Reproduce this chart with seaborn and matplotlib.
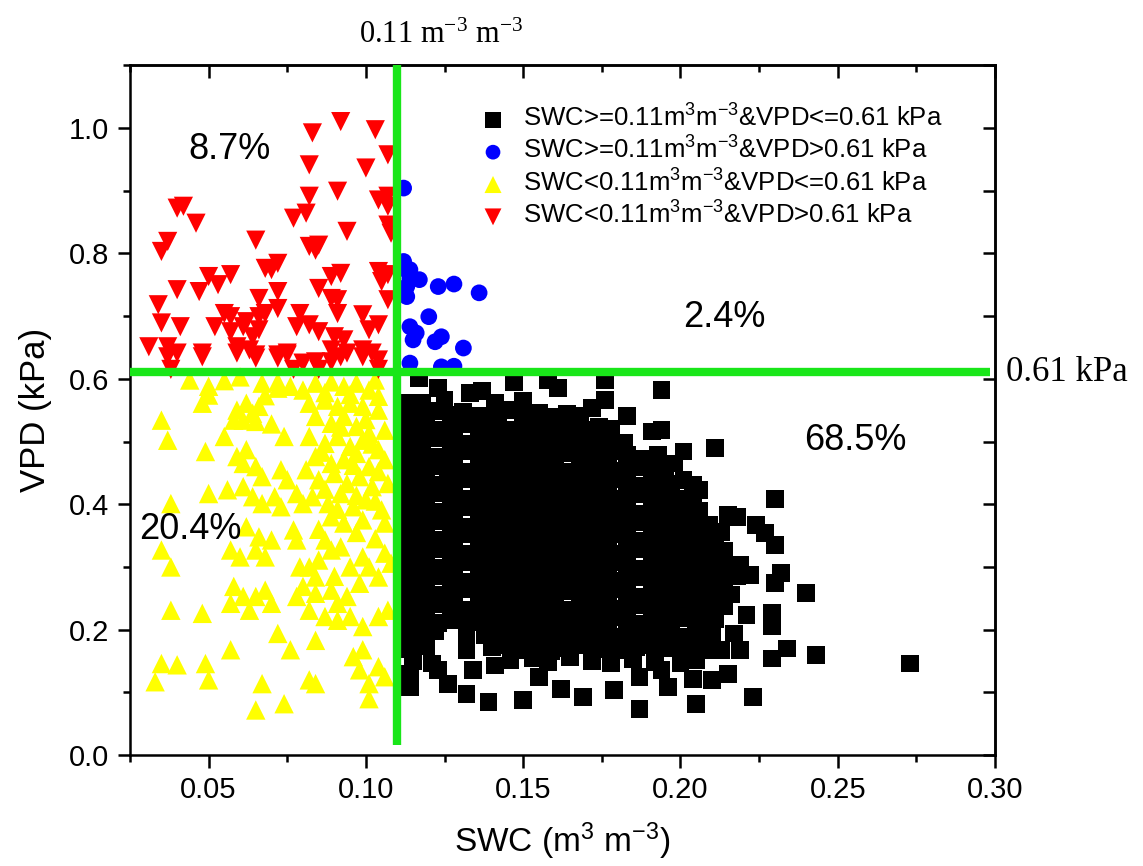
import matplotlib
matplotlib.use("Agg")
import matplotlib.pyplot as plt
import seaborn as sns
import pandas as pd
from matplotlib.ticker import MultipleLocator, FormatStrFormatter

sns.set_theme(style="ticks", rc={"axes.edgecolor": "black", "xtick.color": "black",
                                 "ytick.color": "black", "text.color": "black",
                                 "axes.labelcolor": "black"})
plt.rcParams["font.family"] = ["Liberation Sans", "DejaVu Sans"]
plt.rcParams["mathtext.default"] = "regular"

# ---------------- data (SWC, VPD) ----------------
SWC_T = 0.11
VPD_T = 0.61

labels = [r"SWC>=0.11m$^3$m$^{-3}$&VPD<=0.61 kPa",
          r"SWC>=0.11m$^3$m$^{-3}$&VPD>0.61 kPa",
          r"SWC<0.11m$^3$m$^{-3}$&VPD<=0.61 kPa",
          r"SWC<0.11m$^3$m$^{-3}$&VPD>0.61 kPa"]

pct_text = ["68.5%", "2.4%", "20.4%", "8.7%"]
pct_x = [0.2557, 0.214, 0.0441, 0.0565]
pct_y = [0.502, 0.697, 0.359, 0.965]

red_pts = [
    (0.083, 0.992), (0.092, 1.010), (0.103, 0.997), (0.107, 0.957), (0.082, 0.941), (0.100, 0.936),
    (0.091, 0.899), (0.082, 0.891), (0.104, 0.885), (0.107, 0.891), (0.107, 0.875), (0.040, 0.872),
    (0.042, 0.875), (0.046, 0.848), (0.077, 0.856), (0.081, 0.864), (0.107, 0.845), (0.108, 0.832),
    (0.094, 0.835), (0.065, 0.821), (0.037, 0.819), (0.035, 0.803), (0.082, 0.811), (0.085, 0.813),
    (0.084, 0.805), (0.068, 0.776), (0.072, 0.784), (0.070, 0.774), (0.050, 0.763), (0.053, 0.750),
    (0.057, 0.766), (0.089, 0.763), (0.092, 0.768), (0.104, 0.771), (0.107, 0.766), (0.105, 0.755),
    (0.040, 0.742), (0.047, 0.739), (0.066, 0.728), (0.072, 0.739), (0.085, 0.744), (0.034, 0.718),
    (0.089, 0.728), (0.091, 0.726), (0.091, 0.704), (0.107, 0.726), (0.055, 0.704), (0.057, 0.699),
    (0.062, 0.691), (0.066, 0.699), (0.068, 0.704), (0.072, 0.712), (0.079, 0.704), (0.099, 0.702),
    (0.104, 0.686), (0.101, 0.678), (0.035, 0.689), (0.041, 0.683), (0.052, 0.683), (0.057, 0.675),
    (0.061, 0.683), (0.064, 0.667), (0.066, 0.678), (0.078, 0.683), (0.082, 0.686), (0.085, 0.675),
    (0.090, 0.667), (0.093, 0.662), (0.031, 0.651), (0.037, 0.651), (0.040, 0.641), (0.048, 0.641),
    (0.059, 0.651), (0.063, 0.646), (0.065, 0.638), (0.072, 0.638), (0.075, 0.641), (0.089, 0.646),
    (0.094, 0.641), (0.099, 0.646), (0.102, 0.641), (0.037, 0.635), (0.048, 0.635), (0.059, 0.641),
    (0.065, 0.633), (0.072, 0.633), (0.075, 0.638), (0.080, 0.625), (0.084, 0.627), (0.089, 0.627),
    (0.092, 0.635), (0.099, 0.635), (0.104, 0.630), (0.038, 0.615), (0.077, 0.615), (0.085, 0.615),
    (0.104, 0.615),
]

blue_pts = [
    (0.112, 0.904), (0.112, 0.787), (0.114, 0.774), (0.113, 0.773), (0.114, 0.760), (0.117, 0.758),
    (0.113, 0.747), (0.123, 0.747), (0.128, 0.751), (0.136, 0.737), (0.113, 0.731), (0.120, 0.699),
    (0.114, 0.683), (0.116, 0.673), (0.115, 0.662), (0.122, 0.659), (0.124, 0.667), (0.131, 0.649),
    (0.114, 0.625), (0.124, 0.619), (0.128, 0.620),
]

yellow_pts = [
    (0.044, 0.598), (0.050, 0.588), (0.060, 0.603), (0.067, 0.593), (0.072, 0.595), (0.076, 0.588),
    (0.080, 0.582), (0.084, 0.593), (0.089, 0.595), (0.093, 0.588), (0.097, 0.593), (0.101, 0.582),
    (0.104, 0.572), (0.048, 0.561), (0.050, 0.574), (0.059, 0.550), (0.062, 0.561), (0.064, 0.545),
    (0.066, 0.556), (0.061, 0.534), (0.065, 0.532), (0.058, 0.534), (0.035, 0.534), (0.037, 0.502),
    (0.049, 0.484), (0.074, 0.508), (0.082, 0.561), (0.087, 0.566), (0.091, 0.556), (0.095, 0.561),
    (0.099, 0.556), (0.104, 0.550), (0.084, 0.540), (0.089, 0.529), (0.093, 0.540), (0.097, 0.524),
    (0.101, 0.513), (0.106, 0.518), (0.082, 0.508), (0.087, 0.497), (0.091, 0.508), (0.095, 0.492),
    (0.099, 0.502), (0.104, 0.487), (0.084, 0.476), (0.089, 0.465), (0.093, 0.471), (0.097, 0.481),
    (0.101, 0.460), (0.106, 0.471), (0.081, 0.455), (0.085, 0.439), (0.090, 0.449), (0.094, 0.433),
    (0.098, 0.444), (0.102, 0.428), (0.107, 0.433), (0.083, 0.412), (0.088, 0.401), (0.092, 0.417),
    (0.096, 0.396), (0.100, 0.407), (0.105, 0.391), (0.089, 0.380), (0.093, 0.370), (0.099, 0.375),
    (0.106, 0.370), (0.059, 0.476), (0.062, 0.487), (0.065, 0.460), (0.067, 0.444), (0.061, 0.465),
    (0.073, 0.455), (0.075, 0.439), (0.050, 0.417), (0.056, 0.423), (0.061, 0.428), (0.064, 0.412),
    (0.067, 0.401), (0.071, 0.412), (0.073, 0.396), (0.078, 0.417), (0.080, 0.401), (0.038, 0.401),
    (0.062, 0.364), (0.066, 0.348), (0.070, 0.343), (0.077, 0.359), (0.078, 0.343), (0.057, 0.327),
    (0.060, 0.316), (0.065, 0.327), (0.068, 0.316), (0.087, 0.343), (0.089, 0.327), (0.092, 0.332),
    (0.085, 0.311), (0.035, 0.327), (0.038, 0.300), (0.079, 0.300), (0.082, 0.300), (0.084, 0.284),
    (0.099, 0.316), (0.101, 0.300), (0.106, 0.322), (0.108, 0.306), (0.104, 0.284), (0.058, 0.269),
    (0.061, 0.253), (0.065, 0.253), (0.068, 0.263), (0.070, 0.242), (0.063, 0.231), (0.057, 0.242),
    (0.078, 0.253), (0.080, 0.269), (0.084, 0.258), (0.089, 0.263), (0.091, 0.242), (0.094, 0.253),
    (0.098, 0.274), (0.038, 0.231), (0.048, 0.226), (0.082, 0.231), (0.087, 0.221), (0.091, 0.215),
    (0.095, 0.221), (0.099, 0.205), (0.104, 0.221), (0.107, 0.231), (0.072, 0.194), (0.076, 0.168),
    (0.057, 0.168), (0.084, 0.183), (0.096, 0.157), (0.099, 0.168), (0.104, 0.141), (0.035, 0.146),
    (0.040, 0.144), (0.049, 0.146), (0.033, 0.117), (0.050, 0.120), (0.067, 0.114), (0.082, 0.120),
    (0.084, 0.114), (0.098, 0.136), (0.101, 0.114), (0.106, 0.125), (0.074, 0.082), (0.065, 0.072),
    (0.101, 0.090),
    # extra points in the densest yellow band
    (0.087, 0.578), (0.095, 0.575), (0.103, 0.598), (0.092, 0.523), (0.100, 0.535), (0.086, 0.483),
    (0.102, 0.496), (0.096, 0.462), (0.087, 0.424), (0.104, 0.452), (0.097, 0.414), (0.091, 0.392),
    (0.103, 0.405), (0.085, 0.360), (0.097, 0.355), (0.103, 0.345), (0.095, 0.300), (0.090, 0.285),
    (0.072, 0.585), (0.068, 0.573), (0.055, 0.597), (0.070, 0.528), (0.055, 0.508),
]

black_pts = [
    # scattered upper points
    (0.117, 0.601), (0.123, 0.585), (0.147, 0.595), (0.158, 0.598), (0.161, 0.585), (0.125, 0.566),
    (0.133, 0.577), (0.137, 0.580), (0.118, 0.561), (0.113, 0.561), (0.150, 0.564), (0.141, 0.561),
    (0.168, 0.532), (0.176, 0.598), (0.194, 0.582), (0.176, 0.566), (0.172, 0.553), (0.183, 0.540),
    (0.191, 0.516), (0.194, 0.518), (0.211, 0.489), (0.201, 0.484), (0.193, 0.478), (0.198, 0.465),
    (0.204, 0.431), (0.206, 0.423),
    # dense core, row by row
    (0.113, 0.546), (0.118, 0.541), (0.122, 0.549), (0.127, 0.543), (0.131, 0.547), (0.136, 0.540),
    (0.141, 0.545), (0.145, 0.550), (0.150, 0.542), (0.155, 0.546), (0.160, 0.539), (0.164, 0.544),
    (0.168, 0.540),
    (0.114, 0.521), (0.119, 0.526), (0.123, 0.519), (0.128, 0.524), (0.133, 0.528), (0.137, 0.520),
    (0.142, 0.525), (0.147, 0.518), (0.151, 0.523), (0.156, 0.527), (0.161, 0.521), (0.165, 0.525),
    (0.170, 0.519), (0.174, 0.524), (0.178, 0.520),
    (0.113, 0.503), (0.117, 0.498), (0.122, 0.505), (0.127, 0.500), (0.131, 0.496), (0.136, 0.504),
    (0.140, 0.499), (0.145, 0.502), (0.150, 0.497), (0.154, 0.505), (0.159, 0.500), (0.163, 0.496),
    (0.168, 0.503), (0.173, 0.498), (0.177, 0.502), (0.182, 0.497),
    (0.114, 0.477), (0.118, 0.482), (0.123, 0.475), (0.128, 0.480), (0.132, 0.484), (0.137, 0.476),
    (0.142, 0.481), (0.146, 0.474), (0.151, 0.479), (0.155, 0.483), (0.160, 0.477), (0.165, 0.481),
    (0.169, 0.475), (0.174, 0.480), (0.179, 0.484), (0.183, 0.478), (0.188, 0.473),
    (0.113, 0.459), (0.117, 0.454), (0.122, 0.461), (0.126, 0.456), (0.131, 0.452), (0.136, 0.460),
    (0.140, 0.455), (0.145, 0.458), (0.149, 0.453), (0.154, 0.461), (0.159, 0.456), (0.163, 0.452),
    (0.168, 0.459), (0.172, 0.454), (0.177, 0.458), (0.182, 0.453), (0.186, 0.460), (0.191, 0.455),
    (0.195, 0.458),
    (0.114, 0.433), (0.119, 0.438), (0.123, 0.431), (0.128, 0.436), (0.133, 0.440), (0.137, 0.432),
    (0.142, 0.437), (0.146, 0.430), (0.151, 0.435), (0.156, 0.439), (0.160, 0.433), (0.165, 0.437),
    (0.170, 0.431), (0.174, 0.436), (0.179, 0.440), (0.183, 0.434), (0.188, 0.429), (0.193, 0.436),
    (0.197, 0.432), (0.201, 0.438),
    (0.113, 0.415), (0.118, 0.410), (0.122, 0.417), (0.127, 0.412), (0.131, 0.408), (0.136, 0.416),
    (0.141, 0.411), (0.145, 0.414), (0.150, 0.409), (0.154, 0.417), (0.159, 0.412), (0.164, 0.408),
    (0.168, 0.415), (0.173, 0.410), (0.177, 0.414), (0.182, 0.409), (0.187, 0.416), (0.191, 0.411),
    (0.196, 0.414), (0.200, 0.409), (0.204, 0.415),
    (0.114, 0.389), (0.119, 0.394), (0.123, 0.387), (0.128, 0.392), (0.132, 0.396), (0.137, 0.388),
    (0.142, 0.393), (0.146, 0.386), (0.151, 0.391), (0.156, 0.395), (0.160, 0.389), (0.165, 0.393),
    (0.169, 0.387), (0.174, 0.392), (0.179, 0.396), (0.183, 0.390), (0.188, 0.385), (0.192, 0.392),
    (0.197, 0.388), (0.202, 0.394), (0.206, 0.390),
    (0.113, 0.371), (0.118, 0.366), (0.122, 0.373), (0.127, 0.368), (0.132, 0.364), (0.136, 0.372),
    (0.141, 0.367), (0.145, 0.370), (0.150, 0.365), (0.155, 0.373), (0.159, 0.368), (0.164, 0.364),
    (0.168, 0.371), (0.173, 0.366), (0.178, 0.370), (0.182, 0.365), (0.187, 0.372), (0.191, 0.367),
    (0.196, 0.370), (0.200, 0.365), (0.205, 0.371), (0.209, 0.367),
    (0.114, 0.345), (0.119, 0.350), (0.123, 0.343), (0.128, 0.348), (0.133, 0.352), (0.137, 0.344),
    (0.142, 0.349), (0.146, 0.342), (0.151, 0.347), (0.156, 0.351), (0.160, 0.345), (0.165, 0.349),
    (0.170, 0.343), (0.174, 0.348), (0.179, 0.352), (0.183, 0.346), (0.188, 0.341), (0.193, 0.348),
    (0.197, 0.344), (0.202, 0.350), (0.206, 0.346), (0.211, 0.349),
    (0.113, 0.327), (0.118, 0.322), (0.122, 0.329), (0.127, 0.324), (0.131, 0.320), (0.136, 0.328),
    (0.141, 0.323), (0.145, 0.326), (0.150, 0.321), (0.154, 0.329), (0.159, 0.324), (0.164, 0.320),
    (0.168, 0.327), (0.173, 0.322), (0.177, 0.326), (0.182, 0.321), (0.187, 0.328), (0.191, 0.323),
    (0.196, 0.326), (0.200, 0.321), (0.205, 0.327), (0.210, 0.323), (0.214, 0.325),
    (0.114, 0.301), (0.119, 0.306), (0.123, 0.299), (0.128, 0.304), (0.133, 0.308), (0.137, 0.300),
    (0.142, 0.305), (0.146, 0.298), (0.151, 0.303), (0.156, 0.307), (0.160, 0.301), (0.165, 0.305),
    (0.170, 0.299), (0.174, 0.304), (0.179, 0.308), (0.183, 0.302), (0.188, 0.297), (0.193, 0.304),
    (0.197, 0.300), (0.202, 0.306), (0.206, 0.302), (0.211, 0.305), (0.215, 0.299), (0.219, 0.303),
    (0.113, 0.283), (0.118, 0.278), (0.122, 0.285), (0.127, 0.280), (0.131, 0.276), (0.136, 0.284),
    (0.141, 0.279), (0.145, 0.282), (0.150, 0.277), (0.154, 0.285), (0.159, 0.280), (0.164, 0.276),
    (0.168, 0.283), (0.173, 0.278), (0.177, 0.282), (0.182, 0.277), (0.187, 0.284), (0.191, 0.279),
    (0.196, 0.282), (0.200, 0.277), (0.205, 0.283), (0.210, 0.279), (0.214, 0.281), (0.218, 0.285),
    (0.114, 0.257), (0.119, 0.262), (0.123, 0.255), (0.128, 0.260), (0.133, 0.264), (0.137, 0.256),
    (0.142, 0.261), (0.146, 0.254), (0.151, 0.259), (0.156, 0.263), (0.160, 0.257), (0.165, 0.261),
    (0.170, 0.255), (0.174, 0.260), (0.179, 0.264), (0.183, 0.258), (0.188, 0.253), (0.193, 0.260),
    (0.197, 0.256), (0.202, 0.262), (0.206, 0.258), (0.211, 0.261), (0.216, 0.256),
    (0.113, 0.239), (0.118, 0.234), (0.122, 0.241), (0.127, 0.236), (0.131, 0.232), (0.136, 0.240),
    (0.141, 0.235), (0.145, 0.238), (0.150, 0.233), (0.154, 0.241), (0.159, 0.236), (0.164, 0.232),
    (0.168, 0.239), (0.173, 0.234), (0.177, 0.238), (0.182, 0.233), (0.187, 0.240), (0.191, 0.235),
    (0.196, 0.238), (0.200, 0.233), (0.205, 0.239), (0.210, 0.235), (0.214, 0.237),
    (0.114, 0.213), (0.119, 0.218), (0.123, 0.211), (0.128, 0.216), (0.133, 0.220), (0.137, 0.212),
    (0.142, 0.217), (0.146, 0.210), (0.151, 0.215), (0.156, 0.219), (0.160, 0.213), (0.165, 0.217),
    (0.170, 0.211), (0.174, 0.216), (0.179, 0.220), (0.183, 0.214), (0.188, 0.209), (0.193, 0.216),
    (0.197, 0.212), (0.202, 0.218), (0.206, 0.214), (0.211, 0.217),
    (0.113, 0.195), (0.118, 0.190), (0.122, 0.197), (0.132, 0.194), (0.138, 0.191), (0.141, 0.196),
    (0.145, 0.194), (0.150, 0.189), (0.154, 0.197), (0.159, 0.192), (0.164, 0.188), (0.168, 0.195),
    (0.173, 0.190), (0.177, 0.194), (0.182, 0.189), (0.187, 0.196), (0.191, 0.191), (0.196, 0.194),
    (0.200, 0.189), (0.205, 0.195), (0.210, 0.191),
    (0.114, 0.169), (0.119, 0.174), (0.132, 0.167), (0.140, 0.172), (0.145, 0.176), (0.149, 0.168),
    (0.154, 0.173), (0.159, 0.166), (0.163, 0.171), (0.168, 0.175), (0.173, 0.169), (0.177, 0.173),
    (0.182, 0.167), (0.186, 0.172), (0.191, 0.176), (0.196, 0.170), (0.200, 0.165), (0.205, 0.172),
    (0.210, 0.168),
    (0.115, 0.150), (0.121, 0.146), (0.141, 0.143), (0.146, 0.152), (0.153, 0.155), (0.158, 0.148),
    (0.165, 0.157), (0.172, 0.150), (0.178, 0.146), (0.185, 0.153), (0.192, 0.149), (0.200, 0.146),
    (0.205, 0.152),
    # scattered lower points
    (0.114, 0.130), (0.114, 0.109), (0.123, 0.136), (0.126, 0.114), (0.132, 0.098), (0.134, 0.136),
    (0.139, 0.085), (0.150, 0.088), (0.162, 0.106), (0.169, 0.093), (0.155, 0.125), (0.179, 0.104),
    (0.187, 0.125), (0.187, 0.074), (0.196, 0.109), (0.194, 0.136), (0.204, 0.122), (0.210, 0.120),
    (0.215, 0.130), (0.205, 0.082), (0.223, 0.093),
    # scattered right points
    (0.230, 0.409), (0.215, 0.383), (0.218, 0.380), (0.224, 0.367), (0.227, 0.354), (0.213, 0.356),
    (0.230, 0.335), (0.222, 0.287), (0.230, 0.274), (0.232, 0.290), (0.240, 0.259), (0.221, 0.223),
    (0.229, 0.226), (0.229, 0.205), (0.219, 0.167), (0.213, 0.167), (0.217, 0.194), (0.229, 0.154),
    (0.234, 0.170), (0.243, 0.159), (0.273, 0.146),
]

# ---------------- build table ----------------
groups = [("black", black_pts, "s", "black", 165),
          ("blue", blue_pts, "o", "#0000ff", 145),
          ("yellow", yellow_pts, "^", "#ffff00", 195),
          ("red", red_pts, "v", "#ff0000", 190)]

fig = plt.figure(figsize=(11.43, 8.66), dpi=100)
ax = fig.add_axes([0.1137, 0.128, 0.7568, 0.7968])

for (name, pts, mk, col, size), lab in zip(groups, labels):
    df = pd.DataFrame(pts, columns=["SWC", "VPD"])
    sns.scatterplot(data=df, x="SWC", y="VPD", marker=mk, color=col, s=size,
                    linewidth=0, edgecolor="none", label=lab, ax=ax, zorder=3)

# threshold lines
green = "#19e619"
ax.plot([SWC_T, SWC_T], [0.016, 1.1], color=green, lw=6, solid_capstyle="butt", zorder=5)
ax.plot([0.025, 0.2985], [VPD_T, VPD_T], color=green, lw=6, solid_capstyle="butt", zorder=5)

ax.set_xlim(0.025, 0.30)
ax.set_ylim(0.0, 1.1)

ax.xaxis.set_major_locator(MultipleLocator(0.05))
ax.xaxis.set_minor_locator(MultipleLocator(0.025))
ax.xaxis.set_major_formatter(FormatStrFormatter("%.2f"))
ax.yaxis.set_major_locator(MultipleLocator(0.2))
ax.yaxis.set_minor_locator(MultipleLocator(0.1))
ax.yaxis.set_major_formatter(FormatStrFormatter("%.1f"))

for sp in ax.spines.values():
    sp.set_linewidth(1.8)
    sp.set_color("black")

ax.tick_params(axis="both", which="major", direction="out", length=9, width=1.8,
               labelsize=21, pad=6, top=False, right=False)
ax.tick_params(axis="both", which="minor", direction="out", length=5, width=1.8,
               top=False, right=False)

secx = ax.secondary_xaxis("top")
secx.xaxis.set_major_locator(MultipleLocator(0.05))
secx.xaxis.set_minor_locator(MultipleLocator(0.025))
secx.tick_params(axis="x", which="major", direction="in", length=9, width=1.8, labeltop=False)
secx.tick_params(axis="x", which="minor", direction="in", length=5, width=1.8, labeltop=False)
for sp in secx.spines.values():
    sp.set_linewidth(1.8)

secy = ax.secondary_yaxis("right")
secy.yaxis.set_major_locator(MultipleLocator(0.1))
secy.tick_params(axis="y", which="major", direction="in", length=9, width=1.8, labelright=False)
for sp in secy.spines.values():
    sp.set_linewidth(1.8)

ax.set_xlabel(r"SWC (m$^3$ m$^{-3}$)", fontsize=24, labelpad=12)
ax.set_ylabel("VPD (kPa)", fontsize=25, labelpad=12)

for t, x, y in zip(pct_text, pct_x, pct_y):
    ax.text(x, y, t, fontsize=26, ha="center", va="center", zorder=6)

serif = ["Liberation Serif", "DejaVu Serif"]
ax.text(0.3035, VPD_T, "0.61 kPa", fontsize=25, ha="left", va="center",
        family=serif, clip_on=False)
ax.text(0.124, 1.148, r"0.11 m$^{-3}$ m$^{-3}$", fontsize=22, ha="center", va="center",
        family=serif, clip_on=False)

ax.legend(loc="upper left", bbox_to_anchor=(0.39, 0.958), frameon=False, fontsize=18.5,
          handletextpad=0.55, labelspacing=0.2, borderaxespad=0, markerscale=0.88,
          handlelength=1.2)

fig.savefig("out.png", dpi=100)
